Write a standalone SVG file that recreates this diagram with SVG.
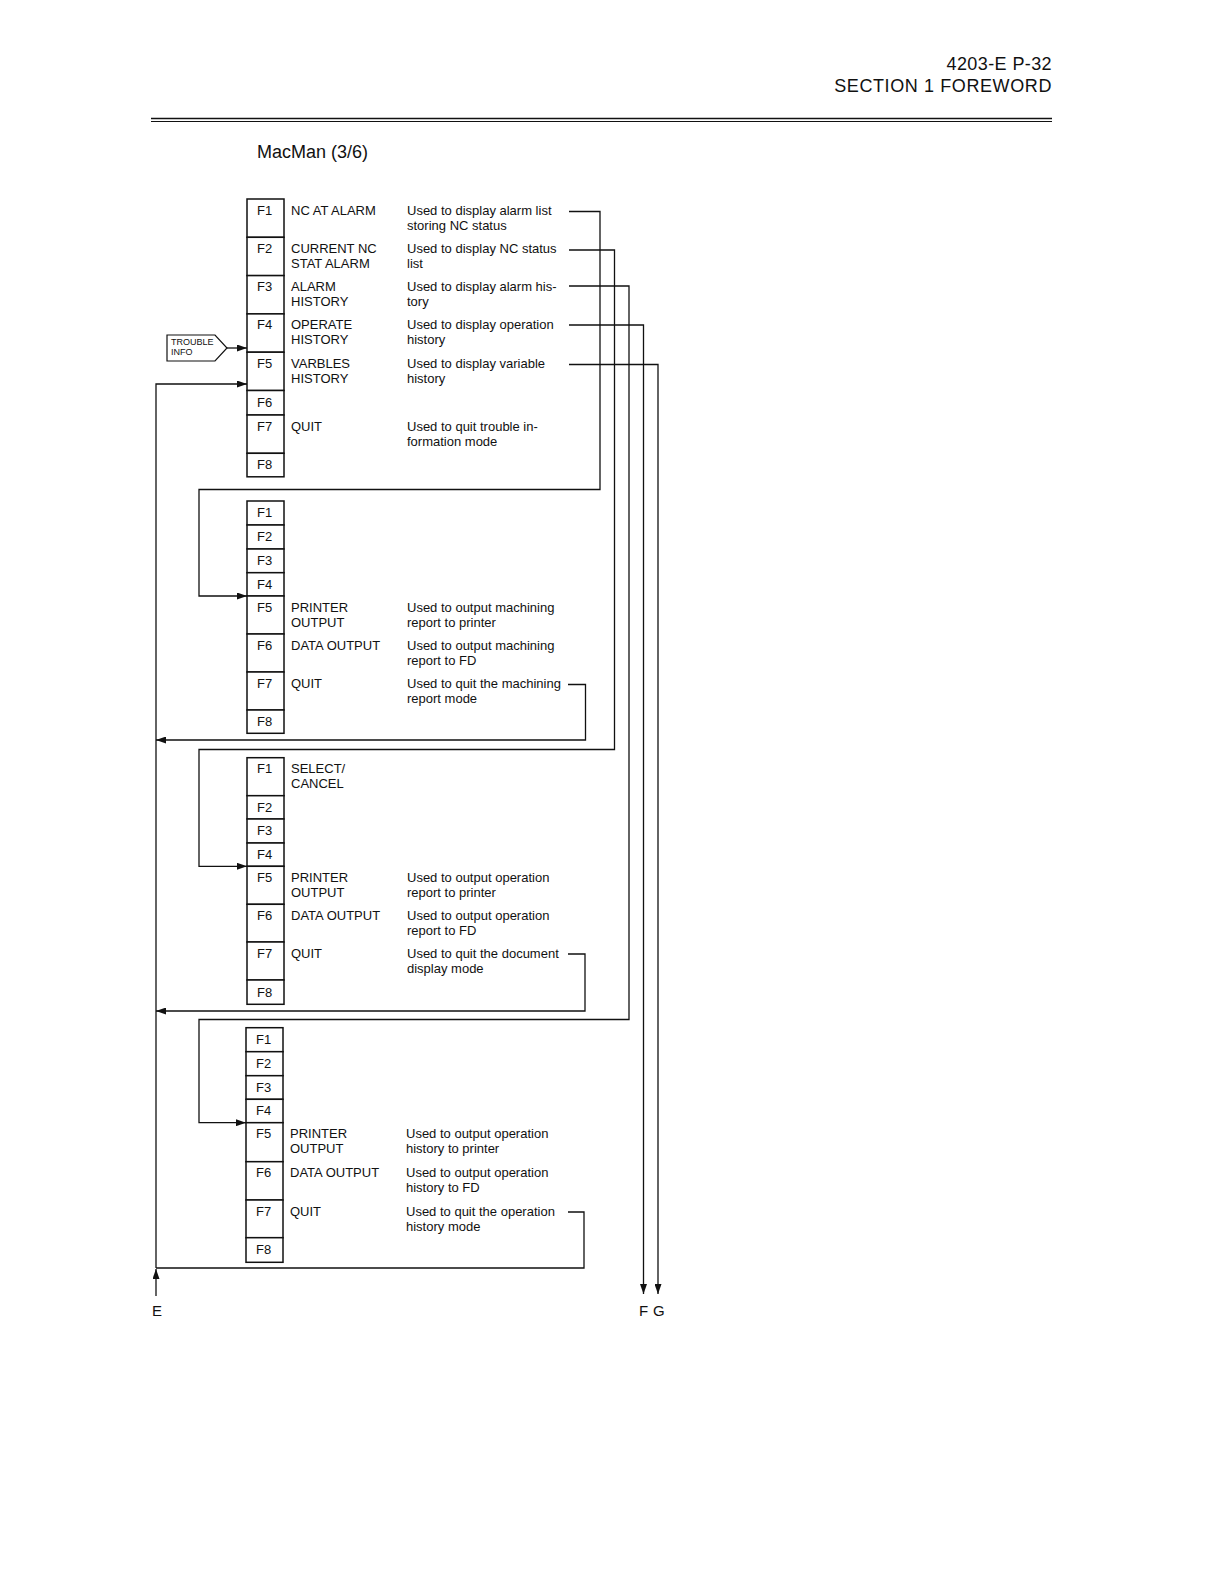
<svg xmlns="http://www.w3.org/2000/svg" width="1224" height="1584" viewBox="0 0 1224 1584">
<style>
text{font-family:"Liberation Sans",Arial,sans-serif;fill:#111}
.hd{font-size:18px}
.t{font-size:13px}
.tg{font-size:9px}
.lb{font-size:15px}
.row{fill:#fff;stroke:#111;stroke-width:1.5}
.ln{fill:none;stroke:#111;stroke-width:1.3}
.arr{fill:none;stroke:#111;stroke-width:1.3;marker-end:url(#ah)}
</style>
<defs>
<marker id="ah" markerUnits="userSpaceOnUse" markerWidth="10" markerHeight="7" refX="10" refY="3.5" orient="auto">
<path d="M0,0 L10,3.5 L0,7 z" fill="#111"/>
</marker>
</defs>
<rect width="1224" height="1584" fill="#fff"/>

<g id="header">
<text class="hd" x="1052" y="70" text-anchor="end" letter-spacing="0.4">4203-E  P-32</text>
<text class="hd" x="1052" y="92" text-anchor="end" letter-spacing="0.6">SECTION 1  FOREWORD</text>
<line x1="151" y1="118.5" x2="1052" y2="118.5" stroke="#111" stroke-width="1.6"/>
<line x1="151" y1="121.5" x2="1052" y2="121.5" stroke="#111" stroke-width="1"/>
</g>

<g id="title">
<text class="hd" x="257" y="157.5">MacMan (3/6)</text>
</g>

<g id="trouble-info">
<path d="M167,335 L215,335 L227,348 L215,361 L167,361 Z" fill="#fff" stroke="#111" stroke-width="1.2"/>
<text class="tg" x="171" y="345">TROUBLE</text>
<text class="tg" x="171" y="355">INFO</text>
</g>

<g id="menu-trouble">
<rect class="row" x="247" y="199" width="37" height="38.3"/>
<rect class="row" x="247" y="237.3" width="37" height="38.3"/>
<rect class="row" x="247" y="275.6" width="37" height="38.3"/>
<rect class="row" x="247" y="313.9" width="37" height="38.3"/>
<rect class="row" x="247" y="352.2" width="37" height="38.3"/>
<rect class="row" x="247" y="390.5" width="37" height="24.5"/>
<rect class="row" x="247" y="415" width="37" height="38.3"/>
<rect class="row" x="247" y="453.3" width="37" height="23.5"/>
<text class="t" x="257" y="214.5">F1</text>
<text class="t" x="257" y="252.8">F2</text>
<text class="t" x="257" y="291.1">F3</text>
<text class="t" x="257" y="329.4">F4</text>
<text class="t" x="257" y="367.7">F5</text>
<text class="t" x="257" y="406.5">F6</text>
<text class="t" x="257" y="430.5">F7</text>
<text class="t" x="257" y="469">F8</text>
<text class="t" x="291" y="214.5">NC AT ALARM</text>
<text class="t" x="407" y="214.5">Used to display alarm list</text>
<text class="t" x="407" y="229.5">storing NC status</text>
<text class="t" x="291" y="252.8">CURRENT NC</text>
<text class="t" x="291" y="267.8">STAT ALARM</text>
<text class="t" x="407" y="252.8">Used to display NC status</text>
<text class="t" x="407" y="267.8">list</text>
<text class="t" x="291" y="291.1">ALARM</text>
<text class="t" x="291" y="306.1">HISTORY</text>
<text class="t" x="407" y="291.1">Used to display alarm his-</text>
<text class="t" x="407" y="306.1">tory</text>
<text class="t" x="291" y="329.4">OPERATE</text>
<text class="t" x="291" y="344.4">HISTORY</text>
<text class="t" x="407" y="329.4">Used to display operation</text>
<text class="t" x="407" y="344.4">history</text>
<text class="t" x="291" y="367.7">VARBLES</text>
<text class="t" x="291" y="382.7">HISTORY</text>
<text class="t" x="407" y="367.7">Used to display variable</text>
<text class="t" x="407" y="382.7">history</text>
<text class="t" x="291" y="430.5">QUIT</text>
<text class="t" x="407" y="430.5">Used to quit trouble in-</text>
<text class="t" x="407" y="445.5">formation mode</text>
</g>

<g id="menu-machining">
<rect class="row" x="247" y="501" width="37" height="24"/>
<rect class="row" x="247" y="525" width="37" height="24"/>
<rect class="row" x="247" y="549" width="37" height="23.7"/>
<rect class="row" x="247" y="572.7" width="37" height="23.3"/>
<rect class="row" x="247" y="596" width="37" height="38"/>
<rect class="row" x="247" y="634" width="37" height="38"/>
<rect class="row" x="247" y="672" width="37" height="38"/>
<rect class="row" x="247" y="710" width="37" height="23.3"/>
<text class="t" x="257" y="517">F1</text>
<text class="t" x="257" y="541">F2</text>
<text class="t" x="257" y="565">F3</text>
<text class="t" x="257" y="588.5">F4</text>
<text class="t" x="257" y="611.5">F5</text>
<text class="t" x="257" y="649.5">F6</text>
<text class="t" x="257" y="687.5">F7</text>
<text class="t" x="257" y="726">F8</text>
<text class="t" x="291" y="611.5">PRINTER</text>
<text class="t" x="291" y="626.5">OUTPUT</text>
<text class="t" x="407" y="611.5">Used to output machining</text>
<text class="t" x="407" y="626.5">report to printer</text>
<text class="t" x="291" y="649.5">DATA OUTPUT</text>
<text class="t" x="407" y="649.5">Used to output machining</text>
<text class="t" x="407" y="664.5">report to FD</text>
<text class="t" x="291" y="687.5">QUIT</text>
<text class="t" x="407" y="687.5">Used to quit the machining</text>
<text class="t" x="407" y="702.5">report mode</text>
</g>

<g id="menu-document">
<rect class="row" x="247" y="757.7" width="37" height="38"/>
<rect class="row" x="247" y="795.7" width="37" height="23.3"/>
<rect class="row" x="247" y="819" width="37" height="24"/>
<rect class="row" x="247" y="843" width="37" height="23.3"/>
<rect class="row" x="247" y="866.3" width="37" height="38"/>
<rect class="row" x="247" y="904.3" width="37" height="37.7"/>
<rect class="row" x="247" y="942" width="37" height="38"/>
<rect class="row" x="247" y="980" width="37" height="24.3"/>
<text class="t" x="257" y="773.2">F1</text>
<text class="t" x="257" y="811.5">F2</text>
<text class="t" x="257" y="835">F3</text>
<text class="t" x="257" y="859">F4</text>
<text class="t" x="257" y="881.8">F5</text>
<text class="t" x="257" y="919.8">F6</text>
<text class="t" x="257" y="957.5">F7</text>
<text class="t" x="257" y="996.5">F8</text>
<text class="t" x="291" y="773.2">SELECT/</text>
<text class="t" x="291" y="788.2">CANCEL</text>
<text class="t" x="291" y="881.8">PRINTER</text>
<text class="t" x="291" y="896.8">OUTPUT</text>
<text class="t" x="407" y="881.8">Used to output operation</text>
<text class="t" x="407" y="896.8">report to printer</text>
<text class="t" x="291" y="919.8">DATA OUTPUT</text>
<text class="t" x="407" y="919.8">Used to output operation</text>
<text class="t" x="407" y="934.8">report to FD</text>
<text class="t" x="291" y="957.5">QUIT</text>
<text class="t" x="407" y="957.5">Used to quit the document</text>
<text class="t" x="407" y="972.5">display mode</text>
</g>

<g id="menu-operation">
<rect class="row" x="246" y="1027.7" width="37" height="24"/>
<rect class="row" x="246" y="1051.7" width="37" height="24"/>
<rect class="row" x="246" y="1075.7" width="37" height="23.6"/>
<rect class="row" x="246" y="1099.3" width="37" height="23.4"/>
<rect class="row" x="246" y="1122.7" width="37" height="39"/>
<rect class="row" x="246" y="1161.7" width="37" height="38.3"/>
<rect class="row" x="246" y="1200" width="37" height="37.7"/>
<rect class="row" x="246" y="1237.7" width="37" height="24.6"/>
<text class="t" x="256" y="1043.5">F1</text>
<text class="t" x="256" y="1067.5">F2</text>
<text class="t" x="256" y="1091.5">F3</text>
<text class="t" x="256" y="1115">F4</text>
<text class="t" x="256" y="1138.2">F5</text>
<text class="t" x="256" y="1177.2">F6</text>
<text class="t" x="256" y="1215.5">F7</text>
<text class="t" x="256" y="1254">F8</text>
<text class="t" x="290" y="1138.2">PRINTER</text>
<text class="t" x="290" y="1153.2">OUTPUT</text>
<text class="t" x="406" y="1138.2">Used to output operation</text>
<text class="t" x="406" y="1153.2">history to printer</text>
<text class="t" x="290" y="1177.2">DATA OUTPUT</text>
<text class="t" x="406" y="1177.2">Used to output operation</text>
<text class="t" x="406" y="1192.2">history to FD</text>
<text class="t" x="290" y="1215.5">QUIT</text>
<text class="t" x="406" y="1215.5">Used to quit the operation</text>
<text class="t" x="406" y="1230.5">history mode</text>
</g>

<g id="connectors">
<line class="arr" x1="227" y1="348" x2="247" y2="348"/>
<path class="arr" d="M156,1268 L156,384 L247,384"/>
<path class="arr" d="M569,211.5 L600,211.5 L600,489.5 L199,489.5 L199,596 L247,596"/>
<path class="arr" d="M569,250 L614.5,250 L614.5,749.5 L199,749.5 L199,866.3 L247,866.3"/>
<path class="arr" d="M569,286 L629,286 L629,1019.5 L199,1019.5 L199,1122.7 L246,1122.7"/>
<path class="arr" d="M569,325 L643.5,325 L643.5,1294"/>
<path class="arr" d="M569,364.5 L658,364.5 L658,1294"/>
<path class="arr" d="M568,684.5 L585.5,684.5 L585.5,740 L156,740"/>
<path class="arr" d="M568,954 L585,954 L585,1011 L156,1011"/>
<path class="ln" d="M568,1212 L584,1212 L584,1268 L156,1268"/>
<line class="arr" x1="156" y1="1296" x2="156" y2="1269"/>
</g>

<g id="labels">
<text class="lb" x="152" y="1316">E</text>
<text class="lb" x="639" y="1316">F</text>
<text class="lb" x="653" y="1316">G</text>
</g>
</svg>
